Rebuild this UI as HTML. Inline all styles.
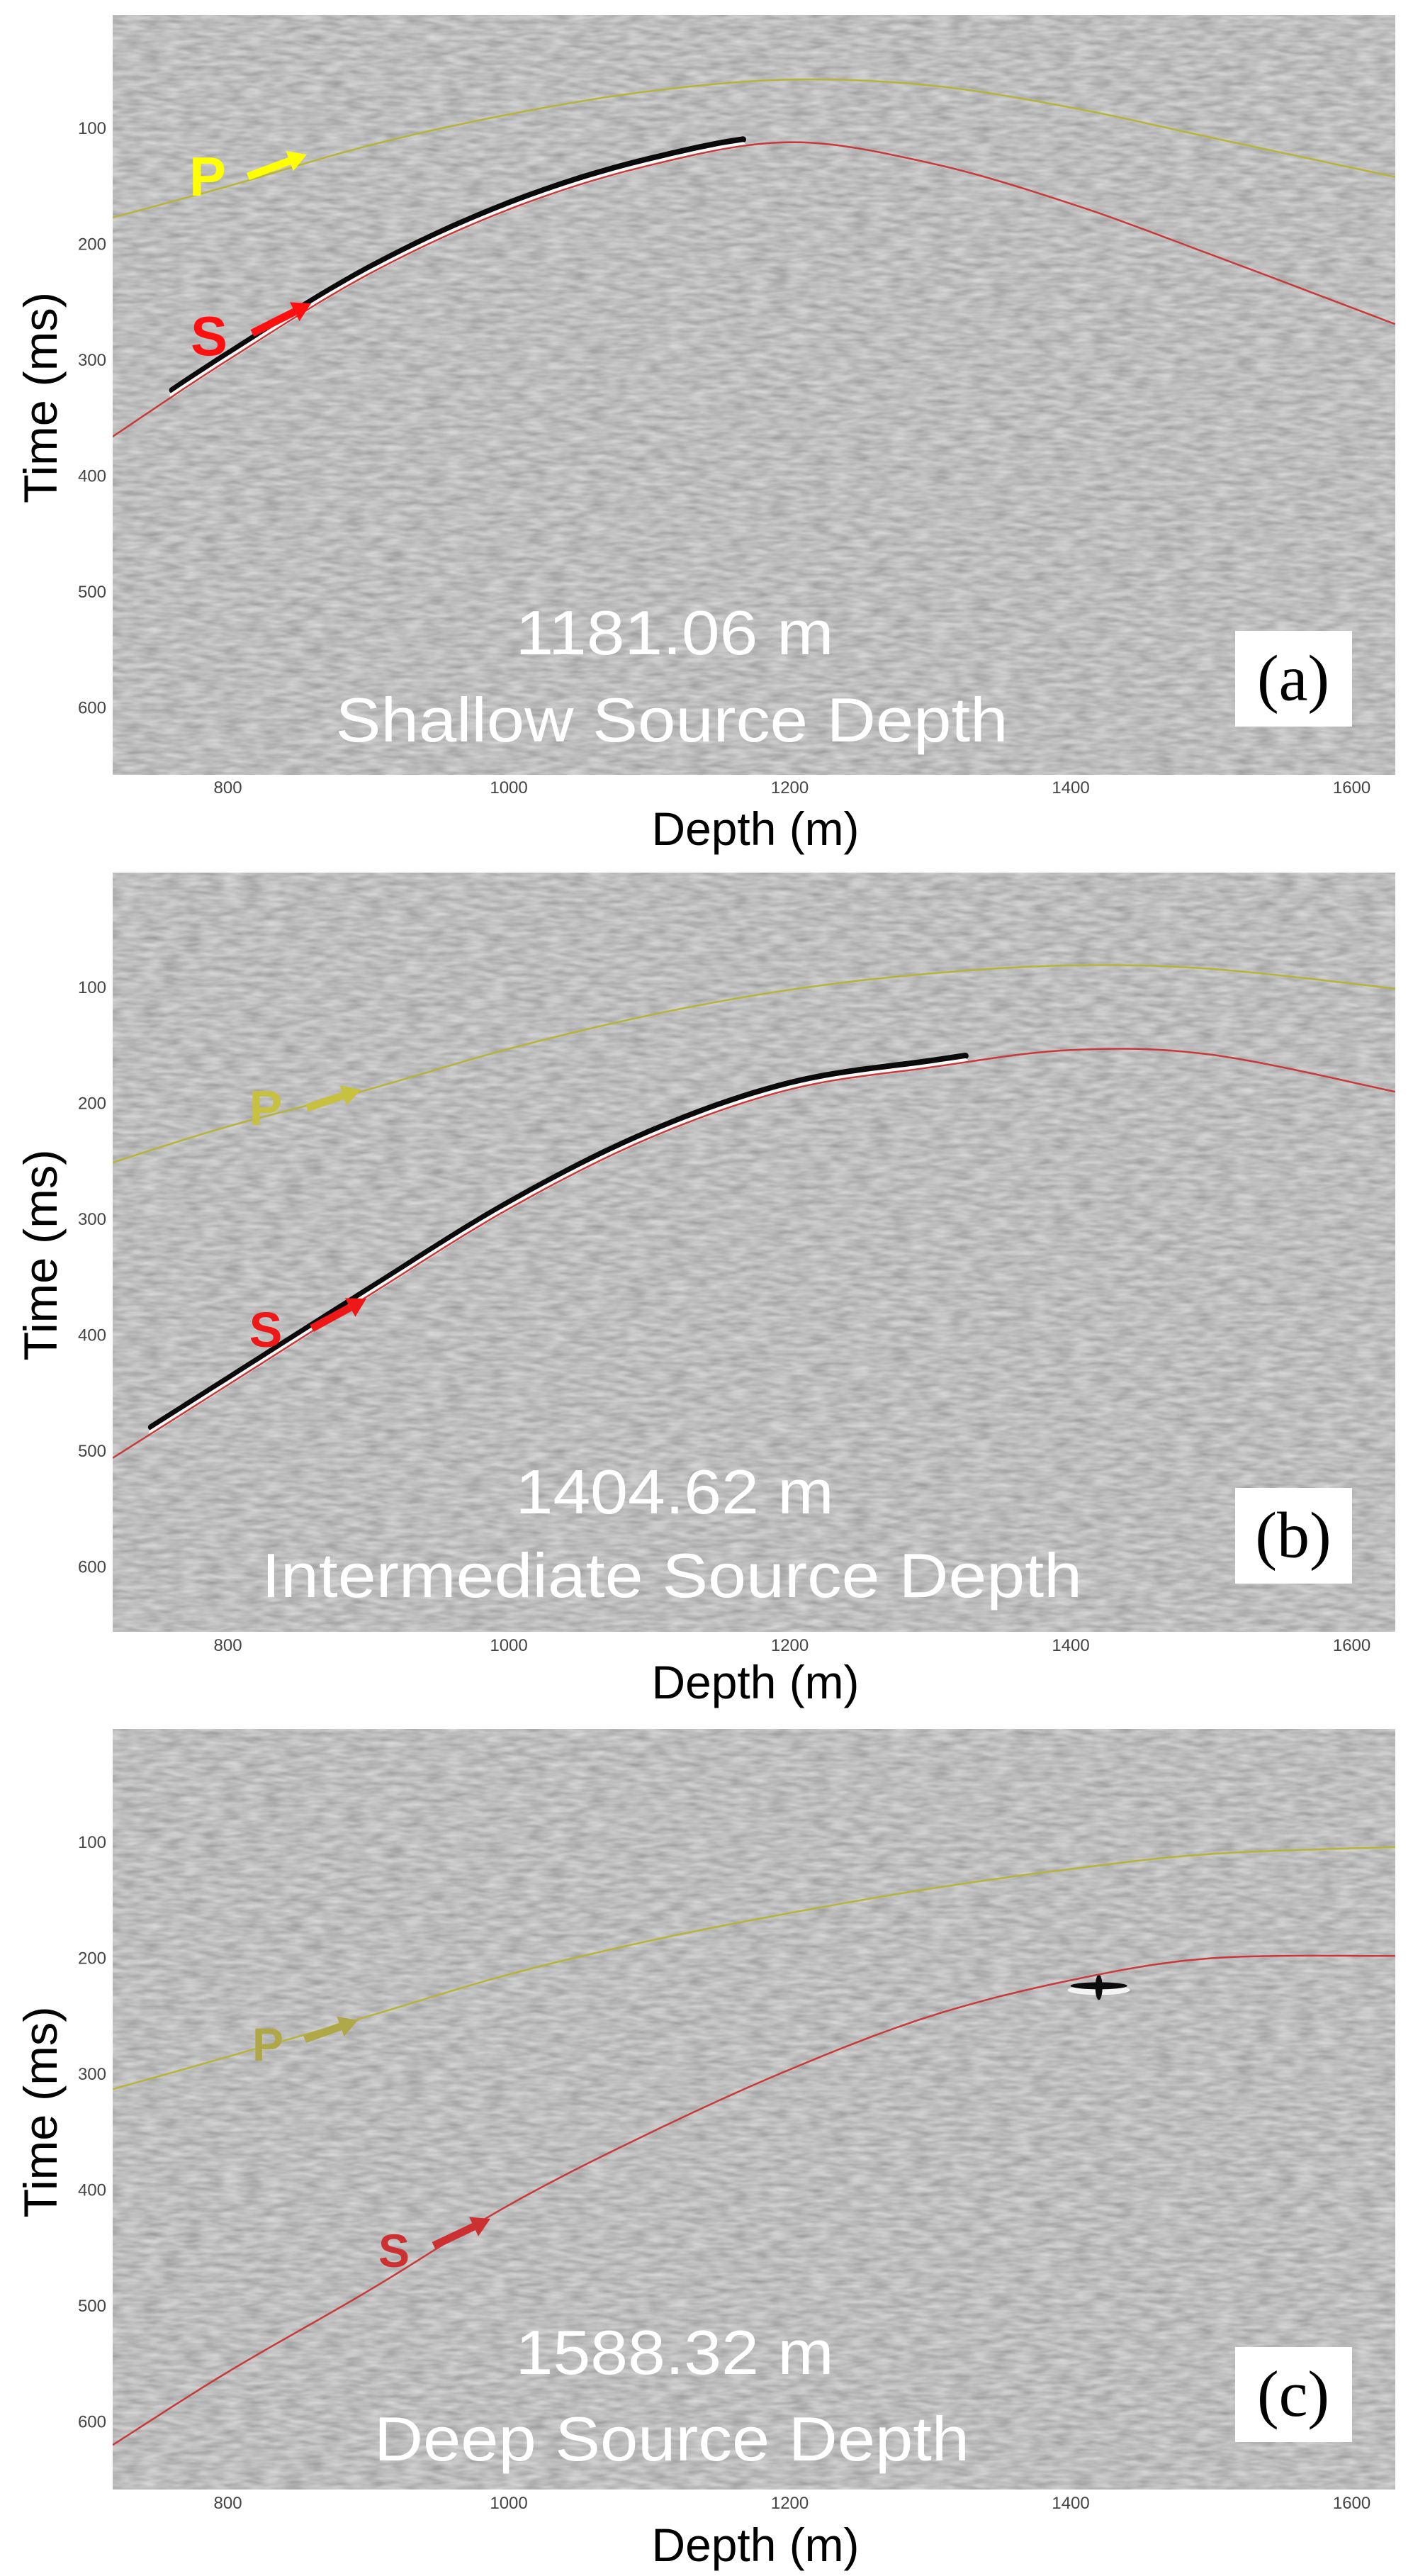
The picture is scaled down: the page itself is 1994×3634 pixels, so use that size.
<!DOCTYPE html>
<html>
<head>
<meta charset="utf-8">
<style>
  html,body{margin:0;padding:0;background:#fff;overflow:hidden;width:1994px;height:3634px;}
  svg{display:block;}
</style>
</head>
<body>
<svg id="fig" xmlns="http://www.w3.org/2000/svg" width="1994" height="3634" viewBox="0 0 1994 3634">
  <defs>
    <filter id="noiseA" x="0" y="0" width="100%" height="100%">
      <feTurbulence type="fractalNoise" baseFrequency="0.035 0.14" numOctaves="2" seed="3"/>
      <feColorMatrix type="matrix" values="0.42 0 0 0 0.3  0.42 0 0 0 0.3  0.42 0 0 0 0.3  0 0 0 0 1"/>
    </filter>
  </defs>
</svg>
<script>
// ---- axis data ----
const depthTicks = [800, 1000, 1200, 1400, 1600];
const timeTicks = [100, 200, 300, 400, 500, 600];
const depthSamples = [718, 800, 900, 1000, 1100, 1200, 1300, 1400, 1500, 1631];
// ---- series (ms) ----
const pTimesA = [177, 150, 115, 88, 68, 58, 63, 82, 108, 142];
const sTimesA = [366, 300, 226, 170, 132, 112, 130, 165, 209, 269];
const pTimesB = [251, 220, 188, 153, 124, 102, 88, 81, 84, 101];
const sTimesB = [506, 443, 366, 291, 230, 188, 169, 154, 158, 190];
const pTimesC = [313, 285, 250, 214, 185, 161, 140, 123, 110, 104];
const sTimesC = [620, 557, 487, 413, 351, 296, 250, 219, 200, 198];
const panelLabels = ["(a)", "(b)", "(c)"];
const depthValues = ["1181.06 m", "1404.62 m", "1588.32 m"];
const depthTitles = ["Shallow Source Depth", "Intermediate Source Depth", "Deep Source Depth"];

const NS = "http://www.w3.org/2000/svg";
const svg = document.getElementById('fig');
function mk(tag, attrs, parent){ const e=document.createElementNS(NS,tag); for(const k in attrs) e.setAttribute(k,attrs[k]); (parent||svg).appendChild(e); return e; }

const X0=159, X1=1969, D0=718, D1=1631;
function xs(d){ return X0 + (d-D0)*(X1-X0)/(D1-D0); }

const panels = [
  {top:21, bot:1093, y100:181, p:pTimesA, s:sTimesA, pCol:"#ffff00", sCol:"#ff1010", lineP:"#b8b43a", lineS:"#c83a3a",
   wave:[760,1175], textY:[891,1014], textW:[449,949], box:[890,1025], tickY:1111, labY:1167,
   pLab:[293,249], pArr:[350,249,433,218], sLab:[295,474], sArr:[356,470,439,428], labSize:78},
  {top:1231, bot:2302, y100:1393, p:pTimesB, s:sTimesB, pCol:"#c8c040", sCol:"#ee1818", lineP:"#b8b43a", lineS:"#c83a3a",
   wave:[740,1330], textY:[2103,2221], textW:[449,1158], box:[2099,2234], tickY:2321, labY:2371,
   pLab:[375,1560], pArr:[433,1563,509,1537], sLab:[375,1873], sArr:[440,1874,517,1832], labSize:70},
  {top:2439, bot:3512, y100:2599, p:pTimesC, s:sTimesC, pCol:"#b0a848", sCol:"#cc3030", lineP:"#b8b43a", lineS:"#c83a3a",
   wave:null, textY:[3317,3439], textW:[449,840], box:[3311,3445], tickY:3531, labY:3588,
   pLab:[378,2880], pArr:[430,2877,505,2850], sLab:[556,3171], sArr:[612,3168,692,3130], labSize:66}
];

function pathFrom(times, ys, dy, dmin, dmax){
  let pts=[];
  for(let i=0;i<depthSamples.length;i++) pts.push([xs(depthSamples[i]), ys(times[i])+dy]);
  let segs=[];
  for(let i=0;i<pts.length-1;i++){
    const p0=pts[Math.max(0,i-1)],p1=pts[i],p2=pts[i+1],p3=pts[Math.min(pts.length-1,i+2)];
    const n=12;
    for(let k=0;k<=n;k++){
      const t=k/n,t2=t*t,t3=t2*t;
      const x=0.5*((2*p1[0])+(-p0[0]+p2[0])*t+(2*p0[0]-5*p1[0]+4*p2[0]-p3[0])*t2+(-p0[0]+3*p1[0]-3*p2[0]+p3[0])*t3);
      const y=0.5*((2*p1[1])+(-p0[1]+p2[1])*t+(2*p0[1]-5*p1[1]+4*p2[1]-p3[1])*t2+(-p0[1]+3*p1[1]-3*p2[1]+p3[1])*t3);
      if(dmin!==undefined && (x<xs(dmin)||x>xs(dmax))) continue;
      segs.push(x.toFixed(1)+","+y.toFixed(1));
    }
  }
  return "M"+segs.join(" L");
}

panels.forEach((P,idx)=>{
  const g = mk('g',{});
  
  
  const ys = t => P.y100 + (t-100)*1.635;
  const cid='clip'+idx;
  const cp=mk('clipPath',{id:cid},g); mk('rect',{x:X0,y:P.top,width:X1-X0,height:P.bot-P.top},cp);
  const bg=mk('rect',{x:X0,y:P.top,width:X1-X0,height:P.bot-P.top,fill:'#8a8a8a'},g);
  
  
  const tex=mk('g',{'clip-path':'url(#'+cid+')'},g);
  mk('rect',{x:X0,y:P.top,width:X1-X0,height:P.bot-P.top,filter:'url(#noiseA)'},tex);
  if(P.wave){
    const wb=mk('path',{d:pathFrom(P.s,ys,-9,P.wave[0],P.wave[1]),fill:'none',stroke:'#0a0a0a','stroke-width':9,'stroke-linecap':'round'},tex);
    
    
    const ww=mk('path',{d:pathFrom(P.s,ys,-2,P.wave[0],P.wave[1]),fill:'none',stroke:'#fafafa','stroke-width':7,'stroke-linecap':'round'},tex);
    
    
  }
  if(idx===2){
    const cx=xs(1420), cy=ys(225);
    mk('ellipse',{cx:cx,cy:cy+4,rx:44,ry:7,fill:'#f4f4f4'},tex);
    mk('ellipse',{cx:cx,cy:cy-2,rx:40,ry:5,fill:'#0c0c0c'},tex);
    mk('ellipse',{cx:cx,cy:cy,rx:5,ry:18,fill:'#0c0c0c'},tex);
  }
  const pl=mk('path',{d:pathFrom(P.p,ys,0),fill:'none',stroke:P.lineP,'stroke-width':2.5},tex);
  
  
  const sl=mk('path',{d:pathFrom(P.s,ys,0),fill:'none',stroke:P.lineS,'stroke-width':2.5},tex);
  
  

  depthTicks.forEach(d=>{
    const t=mk('text',{x:xs(d),y:P.tickY+8,'text-anchor':'middle','font-family':'Liberation Sans, sans-serif','font-size':24,fill:'#444'},g);
    t.textContent=d;
    
    
  });
  timeTicks.forEach(v=>{
    const t=mk('text',{x:150,y:ys(v)+8,'text-anchor':'end','font-family':'Liberation Sans, sans-serif','font-size':24,fill:'#444'},g);
    t.textContent=v;
    
    
  });
  const xl=mk('text',{x:1066,y:P.labY+25,'text-anchor':'middle','font-family':'Liberation Sans, sans-serif','font-size':66,fill:'#000',textLength:293,lengthAdjust:'spacingAndGlyphs'},g);
  xl.textContent='Depth (m)';
  
  
  const ymid=(P.top+P.bot)/2+4;
  const yl=mk('text',{x:0,y:0,transform:'translate(80 '+ymid+') rotate(-90)','text-anchor':'middle','font-family':'Liberation Sans, sans-serif','font-size':66,fill:'#000',textLength:298,lengthAdjust:'spacingAndGlyphs'},g);
  yl.textContent='Time (ms)';
  
  

  const pt=mk('text',{x:P.pLab[0],y:P.pLab[1]+27,'text-anchor':'middle','font-family':'Liberation Sans, sans-serif','font-weight':'bold','font-size':P.labSize,fill:P.pCol},g);
  pt.textContent='P';
  
  
  const st=mk('text',{x:P.sLab[0],y:P.sLab[1]+27,'text-anchor':'middle','font-family':'Liberation Sans, sans-serif','font-weight':'bold','font-size':P.labSize,fill:P.sCol},g);
  st.textContent='S';
  
  
  [[P.pArr,P.pCol,'p-arrow'],[P.sArr,P.sCol,'s-arrow']].forEach(([a,c,n])=>{
    const [x1,y1,x2,y2]=a; const ang=Math.atan2(y2-y1,x2-x1); const L=26, W=15;
    const bx=x2-L*Math.cos(ang), by=y2-L*Math.sin(ang);
    const ag=mk('g',{},g);
    
    
    mk('line',{x1:x1,y1:y1,x2:bx,y2:by,stroke:c,'stroke-width':11},ag);
    mk('polygon',{points:x2+','+y2+' '+(bx+W*Math.sin(ang))+','+(by-W*Math.cos(ang))+' '+(bx-W*Math.sin(ang))+','+(by+W*Math.cos(ang)),fill:c},ag);
  });

  const t1=mk('text',{x:952,y:P.textY[0]+32,'text-anchor':'middle','font-family':'Liberation Sans, sans-serif','font-size':88,fill:'#fff',textLength:P.textW[0],lengthAdjust:'spacingAndGlyphs'},g);
  t1.textContent=depthValues[idx];
  
  
  const t2=mk('text',{x:948,y:P.textY[1]+32,'text-anchor':'middle','font-family':'Liberation Sans, sans-serif','font-size':88,fill:'#fff',textLength:P.textW[1],lengthAdjust:'spacingAndGlyphs'},g);
  t2.textContent=depthTitles[idx];
  
  
  const bx=mk('rect',{x:1743,y:P.box[0],width:165,height:P.box[1]-P.box[0],fill:'#fff'},g);
  
  
  const bl=mk('text',{x:1825,y:(P.box[0]+P.box[1])/2+30,'text-anchor':'middle','font-family':'Liberation Serif, serif','font-size':92,fill:'#000'},g);
  bl.textContent=panelLabels[idx];
  
  
});
</script>
</body>
</html>
